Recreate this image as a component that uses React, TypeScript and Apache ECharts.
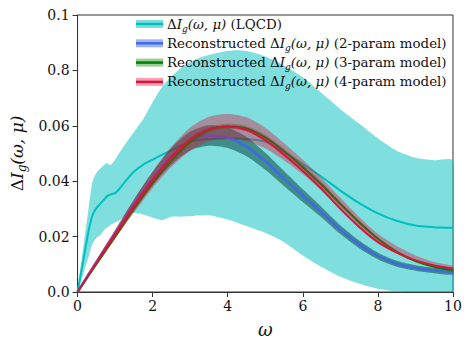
import React, { useEffect, useRef } from "react";
import * as echarts from "echarts";

// ---------- data ----------
const omega = [0, 0.5, 1, 1.5, 2, 2.5, 3, 3.5, 4, 4.5, 5, 5.5, 6, 6.5, 7, 7.5, 8, 8.5, 9, 9.5, 10];
const model2 = [0, 0.0108, 0.0212, 0.0315, 0.041, 0.049, 0.0545, 0.0565, 0.0557, 0.0525, 0.0472, 0.041, 0.0348, 0.0288, 0.0225, 0.0172, 0.013, 0.0102, 0.0087, 0.0078, 0.0073];
const model2Err = [0, 0.0006, 0.0012, 0.0018, 0.0024, 0.003, 0.0034, 0.0037, 0.0037, 0.0035, 0.0031, 0.0027, 0.0023, 0.0019, 0.0016, 0.0014, 0.0012, 0.0011, 0.001, 0.001, 0.001];
const model3 = [0, 0.01, 0.02, 0.03, 0.0393, 0.0475, 0.0542, 0.0585, 0.0598, 0.059, 0.0558, 0.0508, 0.045, 0.0387, 0.0318, 0.0252, 0.0192, 0.0145, 0.0112, 0.0091, 0.0079];
const model3Err = [0, 0.0005, 0.0008, 0.001, 0.001, 0.001, 0.001, 0.001, 0.001, 0.001, 0.001, 0.001, 0.001, 0.001, 0.0009, 0.0008, 0.0007, 0.0006, 0.0005, 0.0005, 0.0005];
const model4 = [0, 0.0105, 0.0208, 0.031, 0.0405, 0.0488, 0.0552, 0.0588, 0.0597, 0.0585, 0.0548, 0.0495, 0.0437, 0.0372, 0.03, 0.0235, 0.018, 0.0142, 0.0114, 0.0096, 0.0085];
const model4ErrHi = [0, 0.0008, 0.0016, 0.0024, 0.003, 0.0037, 0.0042, 0.0045, 0.0046, 0.0046, 0.0045, 0.0042, 0.004, 0.004, 0.004, 0.0036, 0.003, 0.0024, 0.0018, 0.0012, 0.0008];
const model4ErrLo = [0, 0.0008, 0.0016, 0.0024, 0.003, 0.0037, 0.0042, 0.0044, 0.0044, 0.004, 0.003, 0.002, 0.0012, 0.0006, 0.0003, 0.0002, 0.0002, 0.0002, 0.0002, 0.0002, 0.0002];

const lqcdW = [0, 0.1, 0.2, 0.3, 0.4, 0.5, 0.6, 0.7, 0.8, 0.9, 1.0, 1.1, 1.25, 1.5, 1.75, 2.0, 2.5, 3.0, 3.5, 4.0, 4.5, 5.0, 5.5, 6.0, 6.5, 7.0, 7.5, 8.0, 8.5, 9.0, 9.5, 10];
const lqcdY = [0, 0.0075, 0.015, 0.0225, 0.0278, 0.0303, 0.0318, 0.0333, 0.0347, 0.0353, 0.0357, 0.037, 0.0396, 0.0434, 0.046, 0.0478, 0.0512, 0.0543, 0.0552, 0.0555, 0.0552, 0.0542, 0.0505, 0.0462, 0.0416, 0.0366, 0.0321, 0.0284, 0.0257, 0.024, 0.0234, 0.0232];

const lqcdBandW = [0, 0.15, 0.3, 0.4, 0.5, 0.6, 0.7, 0.78, 0.86, 0.96, 1.1, 1.25, 1.5, 1.75, 2.0, 2.25, 2.5, 2.75, 3.0, 3.25, 3.5, 3.75, 4.0, 4.25, 4.5, 4.75, 5.0, 5.5, 6.0, 6.5, 7.0, 7.5, 8.0, 8.5, 9.0, 9.5, 10];
const lqcdBandHi = [0, 0.016, 0.031, 0.04, 0.043, 0.0445, 0.0458, 0.0466, 0.0458, 0.047, 0.05, 0.053, 0.0578, 0.0625, 0.0685, 0.074, 0.0778, 0.0808, 0.083, 0.0846, 0.0856, 0.0864, 0.087, 0.0873, 0.087, 0.0862, 0.085, 0.0818, 0.0775, 0.0718, 0.066, 0.0608, 0.0555, 0.051, 0.0485, 0.0476, 0.0473];
const lqcdBandLo = [0, 0.0065, 0.013, 0.0175, 0.0195, 0.0205, 0.0222, 0.0232, 0.024, 0.0248, 0.0258, 0.0272, 0.0285, 0.028, 0.0268, 0.026, 0.0272, 0.0272, 0.0274, 0.0276, 0.0277, 0.027, 0.0262, 0.025, 0.0238, 0.0226, 0.0214, 0.018, 0.0132, 0.009, 0.0055, 0.003, 0.0012, 0.0002, 0, 0, 0];

const xTicks = ["0", "2", "4", "6", "8", "10"];
const yTickLabels = ["0.0", "0.02", "0.04", "0.06", "0.8", "0.1"];

const legendLabels = [
  "{d|Δ}{i|I}{s|g}{i|(ω, μ)}{a| (LQCD)}",
  "{a|Reconstructed }{d|Δ}{i|I}{s|g}{i|(ω, μ)}{a| (2-param model)}",
  "{a|Reconstructed }{d|Δ}{i|I}{s|g}{i|(ω, μ)}{a| (3-param model)}",
  "{a|Reconstructed }{d|Δ}{i|I}{s|g}{i|(ω, μ)}{a| (4-param model)}",
];

const FONT = "DejaVu Serif";

const lineColors = ["#00bfbf", "#4169e1", "#008000", "#dc143c"];
const legendBandColors = ["rgba(0,191,191,0.5)", "rgba(65,105,225,0.5)", "rgba(0,128,0,0.4)", "rgba(220,20,60,0.4)"];

function bandSeries(id: string, xs: number[], lo: number[], hi: number[], color: string, z: number) {
  return {
    type: "custom",
    id,
    data: [[xs[0], lo[0]]],
    clip: true,
    silent: true,
    z,
    renderItem: (_params: any, api: any) => {
      const upper = xs.map((x, i) => api.coord([x, hi[i]]));
      const lower: number[][] = [];
      for (let i = xs.length - 1; i >= 0; i--) {
        if (hi[i] === lo[i] && (i === 0 || i === xs.length - 1)) continue;
        lower.push(api.coord([xs[i], lo[i]]));
      }
      return {
        type: "polygon",
        shape: { points: upper.concat(lower), smooth: 0.25 },
        style: { fill: color },
      };
    },
  };
}

function lineSeries(id: string, xs: number[], ys: number[], color: string, width: number, z: number) {
  return {
    type: "line",
    id,
    data: xs.map((x, i) => [x, ys[i]]),
    symbol: "none",
    smooth: 0.3,
    lineStyle: { color, width },
    silent: true,
    z,
  };
}

const LFS = 13.4;
const richText = {
  a: { fontFamily: FONT, fontSize: LFS, fill: "#111", lineHeight: 18, verticalAlign: "middle" },
  d: { fontFamily: FONT, fontSize: LFS, fill: "#111", lineHeight: 18, verticalAlign: "middle" },
  i: { fontFamily: FONT, fontSize: LFS, fontStyle: "italic", fill: "#111", lineHeight: 18, verticalAlign: "middle" },
  s: { fontFamily: FONT, fontSize: 9, fontStyle: "italic", fill: "#111", lineHeight: 9, verticalAlign: "bottom" },
};

export default function App() {
  const ref = useRef<HTMLDivElement>(null);
  useEffect(() => {
    if (!ref.current) return;
    const chart = echarts.init(ref.current, undefined, { renderer: "svg" });

    const lo2 = model2.map((v, i) => v - model2Err[i]);
    const hi2 = model2.map((v, i) => v + model2Err[i]);
    const lo3 = model3.map((v, i) => v - model3Err[i]);
    const hi3 = model3.map((v, i) => v + model3Err[i]);
    const lo4 = model4.map((v, i) => v - model4ErrLo[i]);
    const hi4 = model4.map((v, i) => v + model4ErrHi[i]);

    const rowY = [24, 43.3, 62.6, 81.9];
    const legendElems: any[] = [];
    rowY.forEach((yc, k) => {
      legendElems.push({
        type: "rect",
        shape: { x: 136, y: yc - 4, width: 27, height: 8 },
        style: { fill: legendBandColors[k] },
        z: 100,
      });
      legendElems.push({
        type: "line",
        shape: { x1: 136, y1: yc, x2: 163, y2: yc },
        style: { stroke: lineColors[k], lineWidth: 2.5 },
        z: 101,
      });
      legendElems.push({
        type: "text",
        x: 167,
        y: yc,
        style: {
          text: legendLabels[k],
          rich: richText,
          fontFamily: FONT,
          fontSize: LFS,
          fill: "#111",
          verticalAlign: "middle",
          align: "left",
        },
        z: 102,
      });
    });

    chart.setOption({
      animation: false,
      backgroundColor: "#ffffff",
      grid: { left: 73, right: 18, top: 15, bottom: 54, show: true, borderColor: "#333", borderWidth: 1, backgroundColor: "transparent" },
      xAxis: {
        type: "value",
        min: 0,
        max: 10,
        interval: 2,
        name: "ω",
        nameLocation: "middle",
        nameGap: 28,
        nameTextStyle: { fontFamily: FONT, fontSize: 18, fontStyle: "italic", color: "#111" },
        axisLine: { lineStyle: { color: "#333", width: 1 } },
        axisTick: { show: true, length: 5, lineStyle: { color: "#333" } },
        axisLabel: {
          fontFamily: FONT,
          fontSize: 14,
          color: "#111",
          margin: 7,
          formatter: (v: number) => xTicks[Math.round(v / 2)] ?? "",
        },
        splitLine: { show: false },
      },
      yAxis: {
        type: "value",
        min: 0,
        max: 0.1,
        interval: 0.02,
        name: "{d|Δ}{i|I}{s|g}{i|(ω, μ)}",
        nameLocation: "middle",
        nameRotate: 90,
        nameGap: 48,
        nameTextStyle: {
          fontFamily: FONT,
          fontSize: 17,
          color: "#111",
          rich: {
            d: { fontFamily: FONT, fontSize: 17, color: "#111", lineHeight: 22, verticalAlign: "middle" },
            i: { fontFamily: FONT, fontSize: 17, fontStyle: "italic", color: "#111", lineHeight: 22, verticalAlign: "middle" },
            s: { fontFamily: FONT, fontSize: 12, fontStyle: "italic", color: "#111", lineHeight: 12, verticalAlign: "bottom" },
          },
        },
        axisLine: { show: true, lineStyle: { color: "#333", width: 1 } },
        axisTick: { show: true, length: 5, lineStyle: { color: "#333" } },
        axisLabel: {
          fontFamily: FONT,
          fontSize: 14,
          color: "#111",
          margin: 8,
          formatter: (v: number) => yTickLabels[Math.round(v / 0.02)] ?? "",
        },
        splitLine: { show: false },
      },
      series: [
        bandSeries("lqcd", lqcdBandW, lqcdBandLo, lqcdBandHi, "rgba(0,191,191,0.5)", 2),
        lineSeries("lqcdLine", lqcdW, lqcdY, "#00bfbf", 2, 3),
        bandSeries("m2", omega, lo2, hi2, "rgba(0,60,50,0.5)", 4),
        lineSeries("m2Line", omega, model2, "#4169e1", 2.5, 5),
        bandSeries("m3", omega, lo3, hi3, "rgba(0,128,0,0.3)", 6),
        lineSeries("m3Line", omega, model3, "#008000", 2, 7),
        bandSeries("m4", omega, lo4, hi4, "rgba(220,20,60,0.4)", 8),
        lineSeries("m4Line", omega, model4, "#dc143c", 2, 9),
      ],
      graphic: legendElems,
    });
    return () => chart.dispose();
  }, []);
  return <div ref={ref} style={{ position: "fixed", left: 0, top: 0, width: 471, height: 346 }} />;
}
